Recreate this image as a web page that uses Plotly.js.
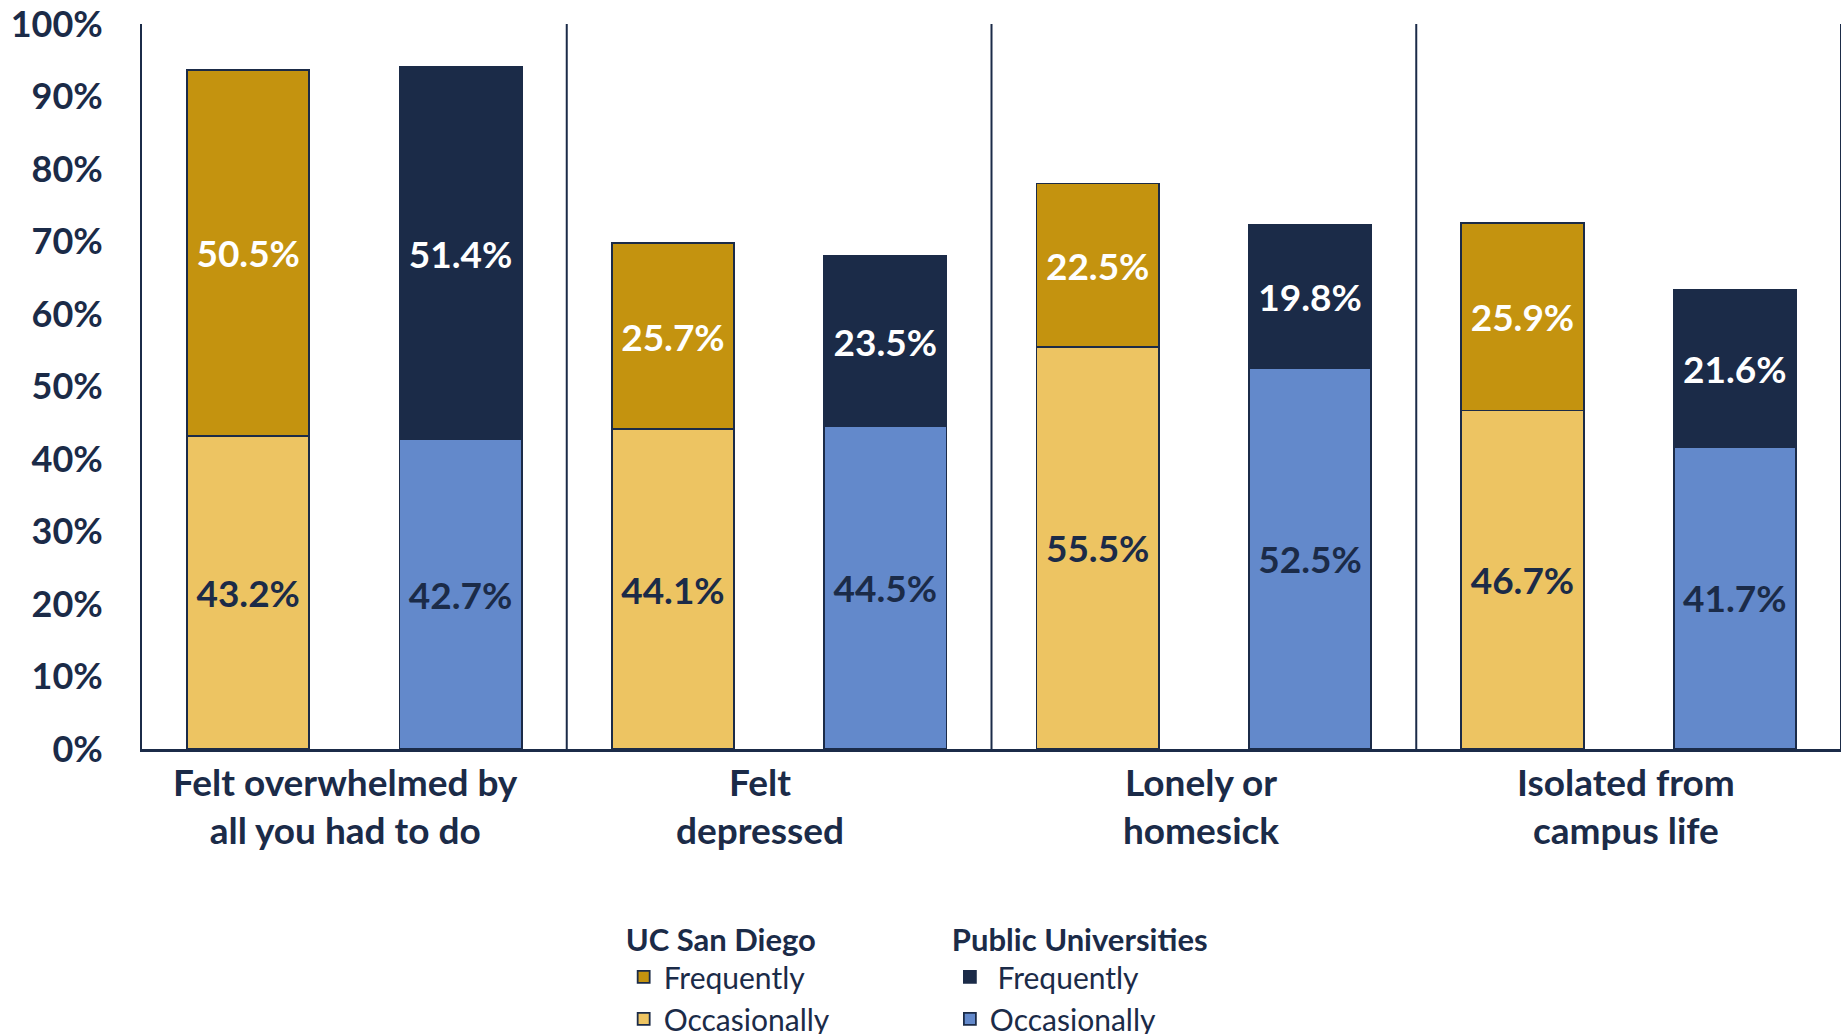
<!DOCTYPE html>
<html>
<head>
<meta charset="utf-8">
<script src="https://cdn.plot.ly/plotly-3.0.1.min.js"></script>
<style>html,body{margin:0;padding:0;background:#fff;}#chart{width:1843px;height:1034px;}</style>
</head>
<body>
<div id="chart"></div>
<script>
const categories = ["Felt overwhelmed by<br>all you had to do", "Felt<br>depressed", "Lonely or<br>homesick", "Isolated from<br>campus life"];
const ucsdOccasionally = [43.2, 44.1, 55.5, 46.7];
const ucsdFrequently = [50.5, 25.7, 22.5, 25.9];
const publicOccasionally = [42.7, 44.5, 52.5, 41.7];
const publicFrequently = [51.4, 23.5, 19.8, 21.6];
const yTicks = [0, 10, 20, 30, 40, 50, 60, 70, 80, 90, 100];

const NAVY = "#1b2b48";
const FONT = "Lato, 'Open Sans', sans-serif";
const idx = categories.map((_, i) => i);
const xU = idx.map(i => i - 0.25);
const xP = idx.map(i => i + 0.25);
const fmt = v => v.toFixed(1) + "%";
const labelShift = [-9, -19, -3, -3];

function bar(x, y, color, textColor, name, legend) {
  return {
    type: "bar", x: x, y: y, name: name, legend: legend,
    width: 0.288,
    marker: {color: color, line: {color: NAVY, width: 1.8}},
    text: y.map(fmt), textposition: "inside", insidetextanchor: "middle",
    textfont: {family: FONT, size: 37, color: textColor, weight: 700},
    constraintext: "none", hoverinfo: "skip"
  };
}

const traces = [
  bar(xU, ucsdOccasionally, "#edc462", NAVY, "Occasionally", "legend"),
  bar(xU, ucsdFrequently, "#c4930f", "#ffffff", "Frequently", "legend"),
  bar(xP, publicOccasionally, "#6389cb", NAVY, "Occasionally", "legend2"),
  bar(xP, publicFrequently, NAVY, "#ffffff", " Frequently", "legend2")
];

const shapes = [0.5, 1.5, 2.5, 3.5].map(v => ({
  type: "line", xref: "x", yref: "y", x0: v, x1: v, y0: 0, y1: 100,
  line: {color: NAVY, width: 2}
}));

const annotations = categories.map((c, i) => ({
  x: i, y: 0, xref: "x", yref: "y", text: c, showarrow: false,
  xanchor: "center", yanchor: "top", yshift: -8, xshift: labelShift[i], align: "center",
  font: {family: FONT, size: 37, color: NAVY, weight: 700}
}));

const legendCommon = {
  orientation: "v", traceorder: "reversed", xanchor: "left", yanchor: "top",
  font: {family: FONT, size: 30, color: NAVY},
  itemwidth: 30, tracegroupgap: 0, bgcolor: "rgba(0,0,0,0)"
};
const legendTitleFont = {family: FONT, size: 31, color: NAVY, weight: 700};

const layout = {
  width: 1843, height: 1034,
  margin: {l: 142, r: 2, t: 24, b: 285, autoexpand: false},
  paper_bgcolor: "#fff", plot_bgcolor: "#fff",
  barmode: "stack", bargap: 0,
  font: {family: FONT, color: NAVY},
  showlegend: true,
  xaxis: {
    range: [-0.5, 3.5], tickvals: idx, showticklabels: false,
    showgrid: false, zeroline: false, showline: true, linecolor: NAVY, linewidth: 3,
    ticks: ""
  },
  yaxis: {
    range: [0, 100], tickvals: yTicks, ticktext: yTicks.map(v => v + "%"),
    showgrid: false, zeroline: false, showline: true, linecolor: NAVY, linewidth: 2,
    ticks: "", ticklabelstandoff: 30,
    tickfont: {family: FONT, size: 36, color: NAVY, weight: 700}
  },
  legend: Object.assign({}, legendCommon, {x: 0.2835, y: -0.223, title: {text: "UC San Diego", font: legendTitleFont}}),
  legend2: Object.assign({}, legendCommon, {x: 0.4755, y: -0.223, title: {text: "Public Universities", font: legendTitleFont}}),
  shapes: shapes,
  annotations: annotations
};

Plotly.newPlot("chart", traces, layout, {displayModeBar: false, staticPlot: true});
</script>
</body>
</html>
